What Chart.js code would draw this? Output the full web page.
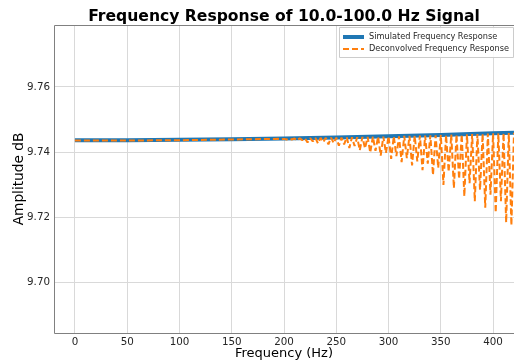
<!DOCTYPE html>
<html>
  <head>
    <title>Frequency Response</title>
    <script src="https://cdn.jsdelivr.net/npm/chart.js@4.4.0/dist/chart.umd.min.js"></script>
    <style>
      body { margin: 0; background: #fff; }
    </style>
  </head>
  <body>
    <canvas id="respChart" width="514" height="362"></canvas>
    <script>

    // simulated response (blue)
    var simFreq = [0, 50, 100, 150, 200, 250, 300, 350, 400, 420];
    var simAmp  = [9.7437, 9.7437, 9.7438, 9.7440, 9.7442, 9.7445, 9.7449, 9.7453, 9.7458, 9.7460];

    // deconvolved response (orange)
    var decFreq = [0, 50, 100, 150, 195,
      197.5, 200, 202.5, 205, 207.5, 210, 212.5, 215, 217.5, 220,
      222.5, 225, 227.5, 230, 232.5, 235, 237.5, 240, 242.5, 245,
      247.5, 250, 252.5, 255, 257.5, 260, 262.5, 265, 267.5, 270,
      272.5, 275, 277.5, 280, 282.5, 285, 287.5, 290, 292.5, 295,
      297.5, 300, 302.5, 305, 307.5, 310, 312.5, 315, 317.5, 320,
      322.5, 325, 327.5, 330, 332.5, 335, 337.5, 340, 342.5, 345,
      347.5, 350, 352.5, 355, 357.5, 360, 362.5, 365, 367.5, 370,
      372.5, 375, 377.5, 380, 382.5, 385, 387.5, 390, 392.5, 395,
      397.5, 400, 402.5, 405, 407.5, 410, 412.5, 415, 417.5, 420];
    var decAmp = [9.7436, 9.7436, 9.7437, 9.7439, 9.7441,
      9.7440, 9.7441, 9.7439, 9.7442, 9.7439, 9.7442, 9.7436, 9.7443, 9.7437, 9.7443,
      9.7430, 9.7443, 9.7433, 9.7444, 9.7427, 9.7444, 9.7431, 9.7444, 9.7424, 9.7445,
      9.7428, 9.7445, 9.7420, 9.7445, 9.7424, 9.7446, 9.7413, 9.7446, 9.7419, 9.7446,
      9.7406, 9.7447, 9.7412, 9.7447, 9.7399, 9.7448, 9.7404, 9.7448, 9.7390, 9.7448,
      9.7398, 9.7449, 9.7380, 9.7449, 9.7388, 9.7449, 9.7370, 9.7450, 9.7382, 9.7450,
      9.7360, 9.7451, 9.7372, 9.7451, 9.7345, 9.7451, 9.7365, 9.7452, 9.7330, 9.7452,
      9.7352, 9.7453, 9.7300, 9.7453, 9.7340, 9.7454, 9.7290, 9.7454, 9.7318, 9.7455,
      9.7265, 9.7455, 9.7305, 9.7456, 9.7250, 9.7456, 9.7285, 9.7457, 9.7230, 9.7457,
      9.7270, 9.7458, 9.7215, 9.7458, 9.7250, 9.7459, 9.7185, 9.7459, 9.7176, 9.7460];

    var xTicks = [0, 50, 100, 150, 200, 250, 300, 350, 400];
    var yTicks = [9.70, 9.72, 9.74, 9.76];

    var seriesNames = ['Simulated Frequency Response', 'Deconvolved Frequency Response'];

    function toPoints(xs, ys)
    {
      return xs.map(function (x, i) { return {x: x, y: ys[i]}; });
    }

    // matplotlib style frame + legend box
    var framePlugin = {
      id: 'frame',
      afterDraw: function (chart) {
        var ctx = chart.ctx;
        var a = chart.chartArea;
        ctx.save();
        ctx.strokeStyle = '#808080';
        ctx.lineWidth = 1;
        ctx.beginPath();
        ctx.moveTo(a.right, a.top + 0.5);
        ctx.lineTo(a.left + 0.5, a.top + 0.5);
        ctx.lineTo(a.left + 0.5, a.bottom + 0.5);
        ctx.lineTo(a.right, a.bottom + 0.5);
        ctx.stroke();

        // legend
        var bx = 339, by = 27, bw = 174, bh = 30;
        ctx.fillStyle = 'rgba(255,255,255,0.85)';
        ctx.strokeStyle = '#cccccc';
        ctx.beginPath();
        ctx.rect(bx + 0.5, by + 0.5, bw, bh);
        ctx.fill();
        ctx.stroke();

        var ds = chart.data.datasets;
        var rows = [37, 49];
        ctx.font = '8.2px "DejaVu Sans"';
        ctx.textBaseline = 'middle';
        for (var i = 0; i < 2; i++) {
          ctx.strokeStyle = ds[i].borderColor;
          ctx.lineWidth = ds[i].borderWidth;
          ctx.setLineDash(ds[i].borderDash || []);
          ctx.beginPath();
          ctx.moveTo(343, rows[i]);
          ctx.lineTo(364, rows[i]);
          ctx.stroke();
          ctx.setLineDash([]);
          ctx.fillStyle = '#262626';
          ctx.fillText(seriesNames[i], 369, rows[i]);
        }
        ctx.restore();
      }
    };

    var ctx = document.getElementById('respChart').getContext('2d');

    var chart = new Chart(ctx, {
      type: 'line',
      data: {
        datasets: [{
          label: seriesNames[0],
          data: toPoints(simFreq, simAmp),
          borderColor: '#1f77b4',
          borderWidth: 4,
          pointRadius: 0,
          order: 2
        },
        {
          label: seriesNames[1],
          data: toPoints(decFreq, decAmp),
          borderColor: '#ff7f0e',
          borderWidth: 2,
          borderDash: [6, 3],
          borderJoinStyle: 'bevel',
          pointRadius: 0,
          order: 1
        }]
      },
      options: {
        responsive: false,
        animation: false,
        layout: { padding: 0 },
        plugins: {
          legend: { display: false },
          tooltip: { enabled: false },
          title: {
            display: true,
            fullSize: false,
            text: 'Frequency Response of 10.0-100.0 Hz Signal',
            color: '#000',
            font: { family: 'DejaVu Sans', size: 15.6, weight: 'bold', lineHeight: 1 },
            padding: { top: 9.4, bottom: 0 }
          }
        },
        scales: {
          x: {
            type: 'linear',
            min: -20,
            max: 420,
            afterBuildTicks: function (axis) {
              axis.ticks = xTicks.map(function (v) { return {value: v}; });
            },
            afterFit: function (axis) { axis.height = 29; },
            grid: { color: '#d9d9d9', drawTicks: false },
            border: { display: false },
            ticks: {
              color: '#262626',
              padding: 3,
              maxRotation: 0,
              font: { family: 'DejaVu Sans', size: 10.3 }
            },
            title: {
              display: true,
              text: 'Frequency (Hz)',
              color: '#000',
              font: { family: 'DejaVu Sans', size: 13 },
              padding: { top: 1, bottom: 1 }
            }
          },
          y: {
            type: 'linear',
            min: 9.6846,
            max: 9.779,
            afterBuildTicks: function (axis) {
              axis.ticks = yTicks.map(function (v) { return {value: v}; });
            },
            afterFit: function (axis) { axis.width = 54; },
            grid: { color: '#d9d9d9', drawTicks: false },
            border: { display: false },
            ticks: {
              color: '#262626',
              padding: 4,
              font: { family: 'DejaVu Sans', size: 10.3 },
              callback: function (v) { return v.toFixed(2); }
            },
            title: {
              display: true,
              text: 'Amplitude dB',
              color: '#000',
              font: { family: 'DejaVu Sans', size: 13.7 },
              padding: { top: 11, bottom: 11 }
            }
          }
        }
      },
      plugins: [framePlugin]
    });

    </script>
  </body>
</html>
